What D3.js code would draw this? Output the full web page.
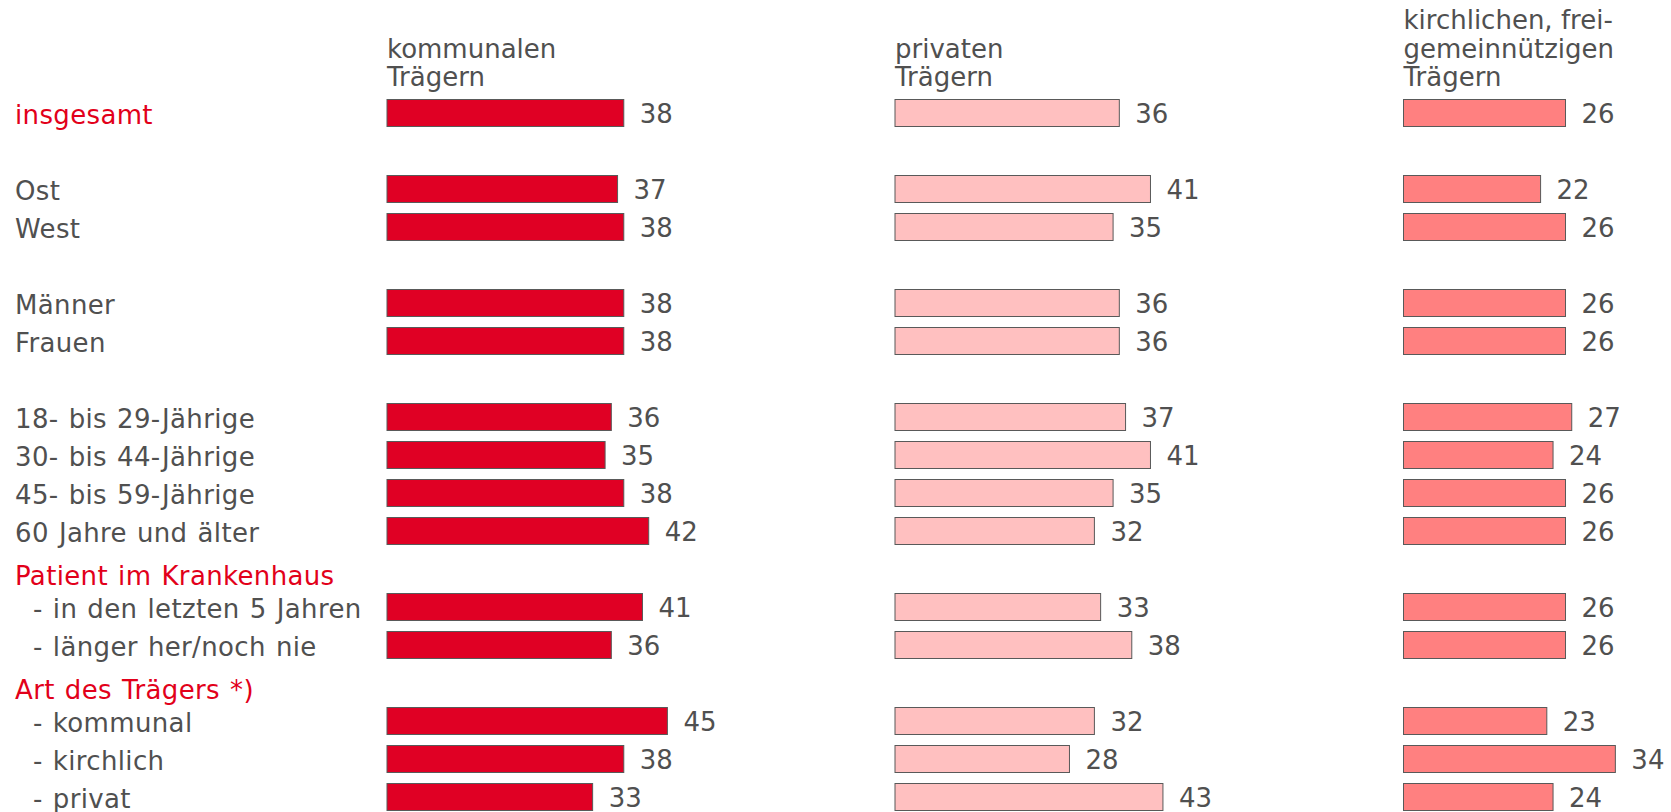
<!DOCTYPE html>
<html>
<head>
<meta charset="utf-8">
<script src="https://cdn.jsdelivr.net/npm/d3@7"></script>
<style>
  html, body { margin: 0; padding: 0; background: #ffffff; }
  svg { display: block; }
  text { font-family: "DejaVu Sans", Verdana, sans-serif; }
</style>
</head>
<body>
<div id="chart"></div>
<script>
// ---- data ----
const rowLabels = [
  "insgesamt", "", "Ost", "West", "", "Männer", "Frauen", "",
  "18- bis 29-Jährige", "30- bis 44-Jährige", "45- bis 59-Jährige", "60 Jahre und älter",
  "Patient im Krankenhaus", "- in den letzten 5 Jahren", "- länger her/noch nie",
  "Art des Trägers *)", "- kommunal", "- kirchlich", "- privat"
];
const rowKinds = [
  "head", "gap", "row", "row", "gap", "row", "row", "gap",
  "row", "row", "row", "row",
  "group", "sub", "sub",
  "group", "sub", "sub", "sub"
];
const seriesNames = [
  ["kommunalen", "Trägern"],
  ["privaten", "Trägern"],
  ["kirchlichen, frei-", "gemeinnützigen", "Trägern"]
];
const kommunal  = [38, null, 37, 38, null, 38, 38, null, 36, 35, 38, 42, null, 41, 36, null, 45, 38, 33];
const privat    = [36, null, 41, 35, null, 36, 36, null, 37, 41, 35, 32, null, 33, 38, null, 32, 28, 43];
const kirchlich = [26, null, 22, 26, null, 26, 26, null, 27, 24, 26, 26, null, 26, 26, null, 23, 34, 24];
const seriesValues = [kommunal, privat, kirchlich];
const seriesColors = ["#E00024", "#FFC0C0", "#FF8080"];

// ---- layout ----
const W = 1671, H = 812;
const textColor = "#505050";
const redText = "#E2001A";
const fontSize = 26;

const svg = d3.select("#chart").append("svg")
  .attr("width", W).attr("height", H);

const y = d3.scalePoint()
  .domain(d3.range(rowLabels.length))
  .range([113, 797]);

const barH = 27;
const colX = [387, 895, 1403.5];
const x = d3.scaleLinear().domain([0, 45]).range([0, 280.4]);

// row labels
svg.append("g").selectAll("text")
  .data(rowLabels.map((l, i) => ({ l, i, k: rowKinds[i] })).filter(d => d.l))
  .join("text")
  .attr("x", d => d.k === "sub" ? 33 : 15)
  .attr("y", d => y(d.i) + (d.k === "group" ? 7 : 2))
  .attr("dy", "0.35em")
  .attr("font-size", fontSize)
  .attr("letter-spacing", 0.35)
  .attr("word-spacing", 1.5)
  .attr("fill", d => (d.k === "head" || d.k === "group") ? redText : textColor)
  .text(d => d.l);

// series
seriesValues.forEach((vals, s) => {
  const g = svg.append("g").attr("transform", `translate(${colX[s]},0)`);
  const data = vals.map((v, i) => ({ v, i })).filter(d => d.v != null);

  g.selectAll("rect").data(data).join("rect")
    .attr("x", 0)
    .attr("y", d => y(d.i) - barH / 2)
    .attr("width", d => x(d.v))
    .attr("height", barH)
    .attr("fill", seriesColors[s])
    .attr("stroke", "#595959")
    .attr("stroke-width", 1);

  g.selectAll("text.val").data(data).join("text")
    .attr("class", "val")
    .attr("x", d => x(d.v) + 16)
    .attr("y", d => y(d.i) + 1)
    .attr("dy", "0.35em")
    .attr("font-size", fontSize)
    .attr("fill", textColor)
    .text(d => d.v);

  // column title (bottom-aligned)
  const lines = seriesNames[s];
  g.selectAll("text.title").data(lines).join("text")
    .attr("class", "title")
    .attr("x", 0)
    .attr("y", (d, i) => 77 - (lines.length - 1 - i) * 28.5)
    .attr("dy", "0.35em")
    .attr("font-size", fontSize)
    .attr("fill", textColor)
    .text(d => d);
});
</script>
</body>
</html>
